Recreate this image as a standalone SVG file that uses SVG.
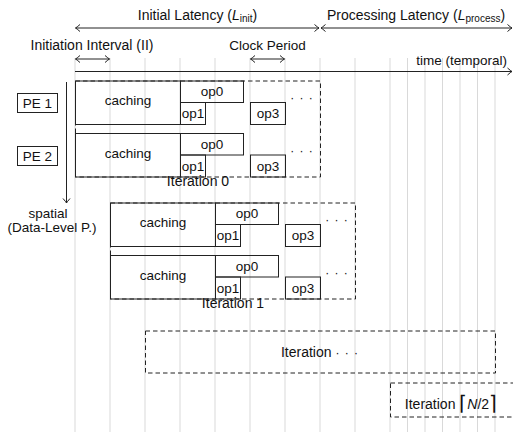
<svg xmlns="http://www.w3.org/2000/svg" width="513" height="432" viewBox="0 0 513 432">
<defs>
<marker id="to" viewBox="-6 -5 8 10" markerWidth="8" markerHeight="10" refX="0" refY="0" orient="auto-start-reverse" markerUnits="userSpaceOnUse">
<path d="M-4.5,-3.5 Q-1.2,-0.6 0,0 Q-1.2,0.6 -4.5,3.5" fill="none" stroke="#222" stroke-width="1"/>
</marker>
<style>
text{font-family:"Liberation Sans",Arial,sans-serif;font-size:13.5px;fill:#111}
.c{text-anchor:middle}
.big{font-size:14px}
.grid line{stroke:#d9d9d9;stroke-width:1}
.ax{stroke:#222;stroke-width:1;fill:none}
.box{fill:none;stroke:#222;stroke-width:1}
.it{fill:none;stroke:#222;stroke-width:1;stroke-dasharray:4.5,3}
.dots{font-size:12px;letter-spacing:1px}
.br{font-family:"DejaVu Sans",sans-serif;font-size:20px;font-weight:200}
</style>
</defs>
<g id="grid" class="grid">
<line x1="75" y1="58" x2="75" y2="432"/>
<line x1="110" y1="58" x2="110" y2="432"/>
<line x1="145" y1="58" x2="145" y2="432"/>
<line x1="180" y1="58" x2="180" y2="432"/>
<line x1="215" y1="58" x2="215" y2="432"/>
<line x1="250" y1="58" x2="250" y2="432"/>
<line x1="285" y1="58" x2="285" y2="432"/>
<line x1="320" y1="58" x2="320" y2="432"/>
<line x1="355" y1="58" x2="355" y2="432"/>
<line x1="390" y1="58" x2="390" y2="432"/>
<line x1="407.5" y1="58" x2="407.5" y2="432"/>
<line x1="425" y1="58" x2="425" y2="432"/>
<line x1="442.5" y1="58" x2="442.5" y2="432"/>
<line x1="460" y1="58" x2="460" y2="432"/>
<line x1="477.5" y1="58" x2="477.5" y2="432"/>
<line x1="495" y1="58" x2="495" y2="432"/>
</g>
<g id="connectors">
<line class="ax" x1="75.5" y1="28" x2="319" y2="28" marker-start="url(#to)" marker-end="url(#to)"/>
<line class="ax" x1="321" y1="28" x2="512" y2="28" marker-start="url(#to)" marker-end="url(#to)"/>
<line class="ax" x1="75.5" y1="59" x2="109.5" y2="59" marker-start="url(#to)" marker-end="url(#to)"/>
<line class="ax" x1="250.5" y1="59" x2="284.5" y2="59" marker-start="url(#to)" marker-end="url(#to)"/>
<line class="ax" x1="75" y1="71.5" x2="512" y2="71.5" marker-end="url(#to)"/>
<line class="ax" x1="66.5" y1="82" x2="66.5" y2="203" marker-end="url(#to)"/>
</g>
<g id="labels">
<text class="c big" x="197.5" y="20">Initial Latency (<tspan font-style="italic">L</tspan><tspan font-size="10" dy="2">init</tspan><tspan dy="-2">)</tspan></text>
<text class="c big" x="416" y="20">Processing Latency (<tspan font-style="italic">L</tspan><tspan font-size="10" dy="2">process</tspan><tspan dy="-2">)</tspan></text>
<text class="c big" x="92" y="50">Initiation Interval (II)</text>
<text class="c" x="267.5" y="50">Clock Period</text>
<text x="507" y="65" text-anchor="end">time (temporal)</text>
<text class="c" x="48" y="218">spatial</text>
<text class="c" x="52" y="232">(Data-Level P.)</text>
</g>
<g id="pe1"><rect class="box" x="17.5" y="93.5" width="40" height="19"/><text class="c" x="37.5" y="108">PE 1</text></g>
<g id="pe2"><rect class="box" x="17.5" y="146.5" width="40" height="19"/><text class="c" x="37.5" y="161">PE 2</text></g>
<g id="iteration0">
<rect class="it" x="75.5" y="81" width="245" height="96"/>
<g id="it0-row1">
<rect class="box" x="75.5" y="81" width="105" height="43.5"/><text class="c" x="128" y="105">caching</text>
<rect class="box" x="180.5" y="81" width="63" height="21.5"/><text class="c" x="212" y="96">op0</text>
<rect class="box" x="180.5" y="102.5" width="25" height="22"/><text class="c" x="193" y="118">op1</text>
<rect class="box" x="250.5" y="102.5" width="35" height="22"/><text class="c" x="268" y="118">op3</text>
<text class="c dots" x="302" y="102">· · ·</text>
</g>
<g id="it0-row2">
<rect class="box" x="75.5" y="133.5" width="105" height="43.5"/><text class="c" x="128" y="157.5">caching</text>
<rect class="box" x="180.5" y="133.5" width="63" height="21.5"/><text class="c" x="212" y="148.5">op0</text>
<rect class="box" x="180.5" y="155" width="25" height="22"/><text class="c" x="193" y="170.5">op1</text>
<rect class="box" x="250.5" y="155" width="35" height="22"/><text class="c" x="268" y="170.5">op3</text>
<text class="c dots" x="302" y="154.5">· · ·</text>
</g>
<text class="c big" x="198" y="186">Iteration 0</text>
</g>
<g id="iteration1">
<rect class="it" x="110.5" y="203" width="245" height="96"/>
<g id="it1-row1">
<rect class="box" x="110.5" y="203" width="105" height="43.5"/><text class="c" x="163" y="227">caching</text>
<rect class="box" x="215.5" y="203" width="63" height="21.5"/><text class="c" x="247" y="218">op0</text>
<rect class="box" x="215.5" y="224.5" width="25" height="22"/><text class="c" x="228" y="240">op1</text>
<rect class="box" x="285.5" y="224.5" width="35" height="22"/><text class="c" x="303" y="240">op3</text>
<text class="c dots" x="337" y="224">· · ·</text>
</g>
<g id="it1-row2">
<rect class="box" x="110.5" y="255.5" width="105" height="43.5"/><text class="c" x="163" y="279.5">caching</text>
<rect class="box" x="215.5" y="255.5" width="63" height="21.5"/><text class="c" x="247" y="270.5">op0</text>
<rect class="box" x="215.5" y="277" width="25" height="22"/><text class="c" x="228" y="292.5">op1</text>
<rect class="box" x="285.5" y="277" width="35" height="22"/><text class="c" x="303" y="292.5">op3</text>
<text class="c dots" x="337" y="276.5">· · ·</text>
</g>
<text class="c big" x="233" y="308">Iteration 1</text>
</g>
<g id="iteration-dots">
<rect class="it" x="145.5" y="331" width="350" height="42"/>
<text class="c big" x="320" y="357">Iteration <tspan class="dots">· · ·</tspan></text>
</g>
<g id="iteration-last">
<rect class="it" x="390.5" y="383" width="126" height="34"/>
<text class="c big" x="451" y="409">Iteration <tspan class="br" dy="1">⌈</tspan><tspan font-style="italic" dy="-1">N</tspan>/2<tspan class="br" dy="1">⌉</tspan></text>
</g>
</svg>
